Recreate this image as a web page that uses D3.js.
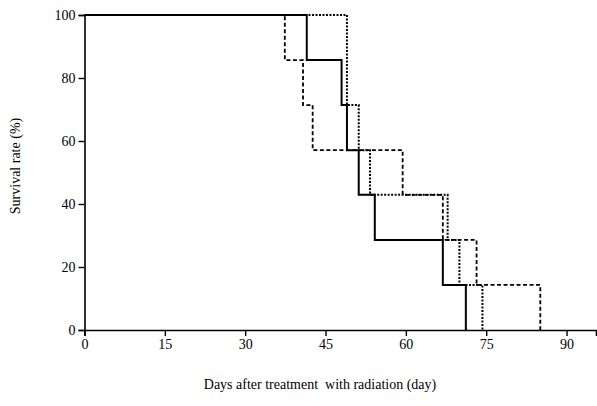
<!DOCTYPE html>
<html>
<head>
<meta charset="utf-8">
<title>Survival rate</title>
<script src="https://cdn.jsdelivr.net/npm/d3@7/dist/d3.min.js"></script>
<style>
  body { margin: 0; background: #fff; }
  text { font-family: "Liberation Serif", "Times New Roman", serif; fill: #000; }
</style>
</head>
<body>
<div id="chart"></div>
<script>
// tick labels
var xTicks = [0, 15, 30, 45, 60, 75, 90];
var yTicks = [0, 20, 40, 60, 80, 100];

// Kaplan-Meier steps (day of each drop, survival after it)
var solidDays = [0, 41.5, 48, 49, 51.2, 54.2, 66.9, 71.2];
var solidSurv = [100, 85.7, 71.4, 57.1, 42.9, 28.6, 14.3, 0];
var dashedDays = [0, 37.4, 40.8, 42.6, 59.4, 66.9, 73.2, 85.1];
var dashedSurv = [100, 85.7, 71.4, 57.1, 42.9, 28.6, 14.3, 0];
var dottedDays = [0, 49, 51.2, 53.3, 67.8, 70, 74.3];
var dottedSurv = [100, 71.4, 57.1, 42.9, 28.6, 14.3, 0];

var W = 597, H = 406;
var serif = "'Liberation Serif', 'Times New Roman', serif";

var svg = d3.select("#chart").append("svg")
    .attr("width", W)
    .attr("height", H);

var x = d3.scaleLinear().domain([0, 95.5]).range([84.5, 596]);
var y = d3.scaleLinear().domain([0, 100]).range([330, 15]);

var xAxis = svg.append("g")
    .attr("transform", "translate(0," + y(0) + ")")
    .call(d3.axisBottom(x).tickValues(xTicks).tickSizeOuter(0).tickSize(6).tickPadding(3));

var yAxis = svg.append("g")
    .attr("transform", "translate(" + x(0) + ",0)")
    .call(d3.axisLeft(y).tickValues(yTicks).tickSizeOuter(0).tickSize(6).tickPadding(3));

[xAxis, yAxis].forEach(function(g) {
    g.attr("font-family", serif).attr("font-size", 14);
    g.select(".domain").attr("stroke", "#000").attr("stroke-width", 1.6);
    g.selectAll(".tick line").attr("stroke", "#000").attr("stroke-width", 1.4);
    g.selectAll(".tick text")
        .style("font-family", serif)
        .style("font-size", "14px")
        .attr("fill", "#000");
});

var line = d3.line()
    .x(function(d) { return x(d[0]); })
    .y(function(d) { return y(d[1]); })
    .curve(d3.curveStepAfter);

function zipSeries(days, surv) {
    return days.map(function(d, i) { return [d, surv[i]]; });
}

var series = [
    { pts: zipSeries(dashedDays, dashedSurv), dash: "4,2.5", w: 1.8 },
    { pts: zipSeries(dottedDays, dottedSurv), dash: "2,1.5", w: 2 },
    { pts: zipSeries(solidDays, solidSurv), dash: null, w: 2 }
];

svg.selectAll(".km")
    .data(series)
    .enter().append("path")
        .attr("class", "km")
        .attr("d", function(d) { return line(d.pts); })
        .attr("fill", "none")
        .attr("stroke", "#000")
        .attr("stroke-width", function(d) { return d.w; })
        .attr("stroke-dasharray", function(d) { return d.dash; });

// axis titles
svg.append("text")
    .attr("transform", "translate(20,166) rotate(-90)")
    .attr("text-anchor", "middle")
    .style("font-size", "14px")
    .text("Survival rate (%)");

svg.append("text")
    .attr("x", 320)
    .attr("y", 389)
    .attr("text-anchor", "middle")
    .attr("xml:space", "preserve")
    .style("white-space", "pre")
    .style("font-size", "14px")
    .text("Days after treatment  with radiation (day)");
</script>
</body>
</html>
